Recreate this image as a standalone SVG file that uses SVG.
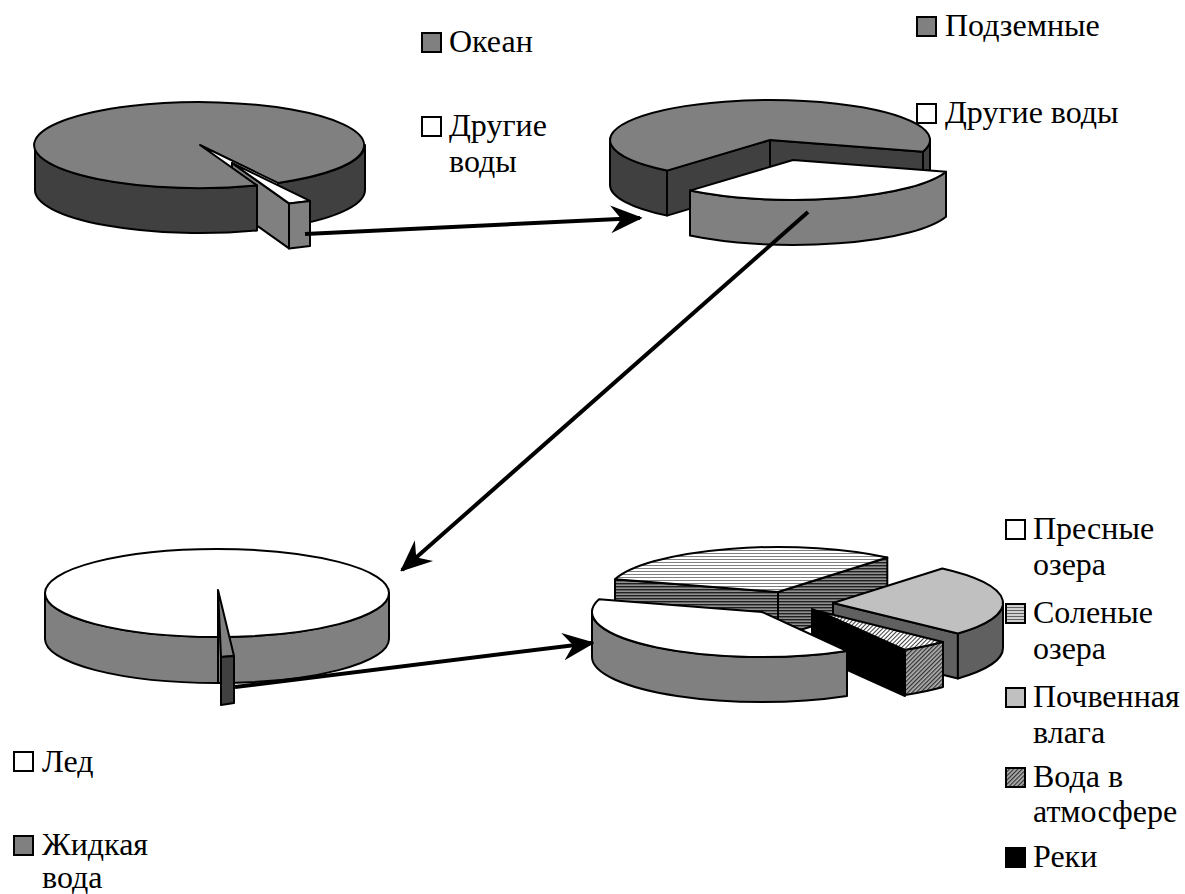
<svg xmlns="http://www.w3.org/2000/svg" width="1185" height="894" viewBox="0 0 1185 894">
  <defs>
    <style>
      .o { stroke: #000; stroke-width: 2; stroke-linejoin: round; }
      .dk { fill: #404040; }
      .md { fill: #808080; }
      .lt { fill: #c0c0c0; }
      .sd { fill: #606060; }
      .wh { fill: #fff; }
      .bk { fill: #000; }
      .sw { stroke: #000; stroke-width: 2; }
      .conn { stroke: #000; stroke-width: 4; fill: none; }
      text { font-family: 'Liberation Serif', 'DejaVu Serif', serif; font-size: 32px; fill: #000; }
    </style>
    <pattern id="hTop" width="4" height="3" patternUnits="userSpaceOnUse">
      <rect width="4" height="3" fill="#fff"/>
      <rect y="1" width="4" height="1" fill="#808080"/>
    </pattern>
    <pattern id="hSide" width="4" height="3" patternUnits="userSpaceOnUse">
      <rect width="4" height="3" fill="#909090"/>
      <rect y="1" width="4" height="1.4" fill="#202020"/>
    </pattern>
    <pattern id="hLeg" width="4" height="3" patternUnits="userSpaceOnUse">
      <rect width="4" height="3" fill="#d0d0d0"/>
      <rect y="1" width="4" height="1" fill="#606060"/>
    </pattern>
    <pattern id="dTop" width="3" height="3" patternUnits="userSpaceOnUse" patternTransform="rotate(45)">
      <rect width="3" height="3" fill="#fff"/>
      <rect width="1" height="3" fill="#404040"/>
    </pattern>
    <pattern id="dSide" width="3" height="3" patternUnits="userSpaceOnUse" patternTransform="rotate(45)">
      <rect width="3" height="3" fill="#b0b0b0"/>
      <rect width="1.2" height="3" fill="#303030"/>
    </pattern>
    <marker id="arr" markerUnits="userSpaceOnUse" markerWidth="32" markerHeight="28" viewBox="-30 -14 32 28" refX="0" refY="0" orient="auto">
      <path d="M1,0 L-27,-12 L-18,0 L-27,12 Z" fill="#000" stroke="#000" stroke-width="1.5" stroke-linejoin="miter"/>
    </marker>
  </defs>

  <rect width="1185" height="894" fill="#fff"/>

  <!-- Pie 1: ocean vs other waters -->
  <g id="pie-ocean">
    <path class="o dk" d="M365,145 L365,190 A165 43 0 0 1 278,227.9 L278,182.9 A165 43 0 0 0 365,145 Z"/>
    <path class="o md" d="M232,163 L289,203.4 L289,248.4 L232,208 Z"/>
    <path class="o dk" d="M257,185.4 L257,230.4 A165 43 0 0 1 35,190 L35,145 A165 43 0 0 0 257,185.4 Z"/>
    <path class="o md" d="M200,145 L278,182.9 A165 43 0 1 0 257,185.4 Z"/>
    <path class="o wh" d="M232,163 L289,203.4 A165 43 0 0 0 310,200.9 Z"/>
    <path class="o md" d="M289,203.4 A165 43 0 0 0 310,200.9 L310,245.9 A165 43 0 0 1 289,248.4 Z"/>
  </g>

  <!-- Pie 2: underground vs other fresh waters -->
  <g id="pie-underground">
    <path class="o dk" d="M667,170.6 L667,215.6 A160 40 0 0 1 610,185 L610,140 A160 40 0 0 0 667,170.6 Z"/>
    <path class="o dk" d="M930,140 L930,185 A160 40 0 0 1 923,196.7 L923,151.7 A160 40 0 0 0 930,140 Z"/>
    <path class="o dk" d="M770,140 L667,170.6 L667,215.6 L770,185 Z"/>
    <path class="o dk" d="M770,140 L923,151.7 L923,196.7 L770,185 Z"/>
    <path class="o md" d="M770,140 L923,151.7 A160 40 0 1 0 667,170.6 Z"/>
    <path class="o md" d="M946,171.7 L946,216.7 A160 40 0 0 1 690,235.6 L690,190.6 A160 40 0 0 0 946,171.7 Z"/>
    <path class="o wh" d="M793,160 L946,171.7 A160 40 0 0 1 690,190.6 Z"/>
  </g>

  <!-- Pie 3: ice vs liquid water -->
  <g id="pie-ice">
    <path class="o md" d="M45,593 L45,639 A172 44 0 0 0 389,639 L389,593 A172 44 0 0 1 45,593 Z"/>
    <ellipse class="o wh" cx="217" cy="593" rx="172" ry="44"/>
    <path class="o" fill="none" d="M218,590 L218,683"/>
    <path class="o md" d="M218,590 L221,657 L234,656 Z"/>
    <path class="o dk" d="M221,657 L234,656 L234,703 L221,705 Z"/>
  </g>

  <!-- Pie 4: surface and other fresh waters -->
  <g id="pie-fresh">
    <!-- salt lakes -->
    <path class="o" fill="url(#hSide)" d="M778,592 L615,579.2 L615,624.2 L778,637 Z"/>
    <path class="o" fill="url(#hSide)" d="M778,592 L887.3,557.5 L887.3,602.5 L778,637 Z"/>
    <path class="o" fill="url(#hTop)" d="M778,592 L615,579.2 A170 45 0 0 1 887.3,557.5 Z"/>
    <!-- soil moisture -->
    <path class="o sd" d="M833,603 L957.9,633.5 L957.9,678.5 L833,648 Z"/>
    <path class="o sd" d="M1003,603 L1003,648 A170 45 0 0 1 957.9,678.5 L957.9,633.5 A170 45 0 0 0 1003,603 Z"/>
    <path class="o lt" d="M833,603 L942.3,568.5 A170 45 0 0 1 957.9,633.5 Z"/>
    <!-- rivers -->
    <path class="o bk" d="M812,609 L905,649 L905,696 L812,654 Z"/>
    <!-- atmosphere -->
    <path class="o" fill="url(#dTop)" d="M818,611 L943,642 A170 45 0 0 1 905,650 Z"/>
    <path class="o" fill="url(#dSide)" d="M943,642 L943,687 A170 45 0 0 1 905,695 L905,650 A170 45 0 0 0 943,642 Z"/>
    <!-- fresh lakes -->
    <path class="o md" d="M847,651 L847,696 A170 45 0 0 1 592,657 L592,612 A170 45 0 0 0 847,651 Z"/>
    <path class="o wh" d="M762,612 L847,651 A170 45 0 0 1 599,599.2 Z"/>
  </g>

  <!-- Connectors between the pies -->
  <g id="connectors">
    <line class="conn" x1="305" y1="234" x2="640" y2="218" marker-end="url(#arr)"/>
    <line class="conn" x1="808" y1="212" x2="402" y2="570" marker-end="url(#arr)"/>
    <line class="conn" x1="235" y1="687" x2="592" y2="643" marker-end="url(#arr)"/>
  </g>

  <!-- Legends -->
  <g id="legend-ocean">
    <rect class="sw md" x="422" y="33" width="19" height="19"/>
    <text x="449" y="52">Океан</text>
    <rect class="sw wh" x="422" y="117" width="19" height="19"/>
    <text x="449" y="136">Другие</text>
    <text x="449" y="172">воды</text>
  </g>
  <g id="legend-underground">
    <rect class="sw md" x="917" y="17" width="19" height="19"/>
    <text x="945" y="36">Подземные</text>
    <rect class="sw wh" x="917" y="104" width="19" height="19"/>
    <text x="945" y="123">Другие воды</text>
  </g>
  <g id="legend-ice">
    <rect class="sw wh" x="14" y="752" width="19" height="19"/>
    <text x="42" y="772">Лед</text>
    <rect class="sw md" x="14" y="836" width="19" height="19"/>
    <text x="42" y="855">Жидкая</text>
    <text x="42" y="888">вода</text>
  </g>
  <g id="legend-fresh">
    <rect class="sw wh" x="1006" y="520" width="19" height="19"/>
    <text x="1033" y="539">Пресные</text>
    <text x="1033" y="575">озера</text>
    <rect class="sw" fill="url(#hLeg)" x="1006" y="604" width="19" height="19"/>
    <text x="1033" y="623">Соленые</text>
    <text x="1033" y="659">озера</text>
    <rect class="sw lt" x="1006" y="688" width="19" height="19"/>
    <text x="1033" y="707">Почвенная</text>
    <text x="1033" y="743">влага</text>
    <rect class="sw" fill="url(#dSide)" x="1006" y="768" width="19" height="19"/>
    <text x="1033" y="787">Вода в</text>
    <text x="1033" y="822">атмосфере</text>
    <rect class="sw bk" x="1006" y="848" width="19" height="19"/>
    <text x="1033" y="867">Реки</text>
  </g>
</svg>
